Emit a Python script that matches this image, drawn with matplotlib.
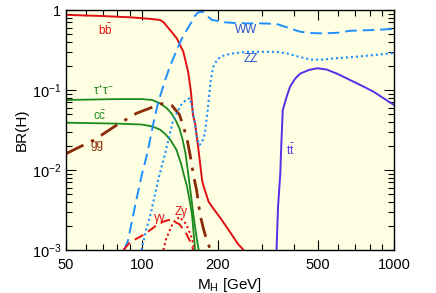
import matplotlib
matplotlib.use("Agg")
import matplotlib.pyplot as plt
from matplotlib.ticker import FixedLocator, NullFormatter, FixedFormatter

plt.rcParams['font.family'] = ['Liberation Sans', 'DejaVu Sans']
plt.rcParams['mathtext.fontset'] = 'custom'
plt.rcParams['mathtext.rm'] = 'Liberation Sans'
plt.rcParams['mathtext.it'] = 'Liberation Sans'
plt.rcParams['mathtext.default'] = 'regular'

# ---- data ----
m_bb = [50, 70, 90, 100, 110, 118, 122, 129.5, 137.7, 146, 152.5, 156.5, 159.4, 162.6, 168, 173.4, 176.5, 184, 192, 205, 223, 240, 253]
br_bb = [0.87, 0.84, 0.81, 0.79, 0.77, 0.75, 0.70, 0.56, 0.44, 0.30, 0.17, 0.095, 0.049, 0.038, 0.017, 0.0073, 0.0060, 0.0040, 0.0033, 0.0025, 0.0017, 0.0012, 0.001]

m_tau = [50, 80, 100, 110, 118, 125, 131, 136, 141, 145, 149, 153, 157, 161, 165, 168]
br_tau = [0.075, 0.077, 0.077, 0.075, 0.068, 0.060, 0.051, 0.042, 0.033, 0.024, 0.016, 0.0085, 0.0045, 0.0024, 0.0014, 0.001]

m_cc = [50, 80, 100, 110, 118, 124, 130, 137, 143, 147, 151, 155, 158, 162.6]
br_cc = [0.039, 0.038, 0.037, 0.035, 0.032, 0.028, 0.0235, 0.018, 0.012, 0.0085, 0.0062, 0.0040, 0.0028, 0.001]

m_gg = [50, 65, 79, 95, 108.6, 118, 125, 131, 141, 150.4, 155, 160.5, 165, 170, 175, 181, 187.5]
br_gg = [0.016, 0.024, 0.036, 0.051, 0.060, 0.067, 0.068, 0.065, 0.049, 0.026, 0.016, 0.0083, 0.0055, 0.0028, 0.0019, 0.0013, 0.001]

m_ww = [85, 88, 95, 100, 105, 111, 116, 123.7, 129, 136, 143, 150, 157, 162, 167, 172, 176, 182, 190, 200, 215, 230, 260, 300, 342, 380, 424, 470, 524, 600, 670, 800, 1000]
br_ww = [0.001, 0.0013, 0.0042, 0.0088, 0.016, 0.038, 0.070, 0.133, 0.195, 0.29, 0.42, 0.55, 0.70, 0.84, 0.93, 0.95, 0.93, 0.83, 0.75, 0.73, 0.70, 0.69, 0.68, 0.68, 0.67, 0.60, 0.535, 0.515, 0.51, 0.52, 0.55, 0.56, 0.58]

m_zz = [99.7, 104, 108.6, 116, 123.7, 133, 143, 150, 155, 160, 165, 169, 173, 178, 183, 187.5, 192, 198, 205, 215, 230, 260, 294, 340, 376, 420, 466, 520, 576, 700, 850, 1000]
br_zz = [0.001, 0.0018, 0.0029, 0.0075, 0.0162, 0.042, 0.065, 0.076, 0.079, 0.051, 0.026, 0.0205, 0.022, 0.029, 0.062, 0.133, 0.195, 0.235, 0.26, 0.275, 0.287, 0.30, 0.30, 0.30, 0.287, 0.26, 0.24, 0.24, 0.248, 0.26, 0.275, 0.29]

m_tt = [342, 346.8, 354, 357, 362, 375, 387, 405, 424, 460, 496, 541, 600, 670, 750, 830, 1000]
br_tt = [0.001, 0.0035, 0.0091, 0.0196, 0.056, 0.082, 0.11, 0.138, 0.16, 0.178, 0.187, 0.18, 0.158, 0.133, 0.112, 0.095, 0.065]

m_aa = [84.5, 89.7, 99.7, 108.6, 118, 129.5, 141, 150, 155, 160]
br_aa = [0.001, 0.00125, 0.0015, 0.0018, 0.0022, 0.0024, 0.0021, 0.0016, 0.0013, 0.001]

m_za = [121.7, 125, 133, 141, 150, 158, 161.5]
br_za = [0.001, 0.0014, 0.0022, 0.0026, 0.0021, 0.0014, 0.001]

xticks = [50, 100, 200, 500, 1000]
xticklabels = ['50', '100', '200', '500', '1000']
yticks = [1e-3, 1e-2, 1e-1, 1]
yticklabels = [r'$10^{-3}$', r'$10^{-2}$', r'$10^{-1}$', '1']

# ---- colours ----
c_red = '#e01010'
c_green = '#1a8a1a'
c_brown = '#8b2a08'
c_blue = '#1e8fff'
c_blue_txt = '#2a4fd6'
c_purple = '#5a2ee8'

fig = plt.figure(figsize=(4.36, 2.93), dpi=100)
ax = fig.add_axes([66/436, 1 - 250/293, 328/436, 240/293])
ax.set_facecolor('#fefee2')

ax.plot(m_bb, br_bb, color=c_red, lw=1.4)
ax.plot(m_tau, br_tau, color=c_green, lw=1.3)
ax.plot(m_cc, br_cc, color=c_green, lw=1.3)
ax.plot(m_gg, br_gg, color=c_brown, lw=2.0, dashes=(7, 3, 1.2, 3))
ax.plot(m_ww, br_ww, color=c_blue, lw=1.4, dashes=(6, 3))
ax.plot(m_zz, br_zz, color=c_blue, lw=1.5, dashes=(1, 1.4))
ax.plot(m_tt, br_tt, color=c_purple, lw=1.4)
ax.plot(m_aa, br_aa, color=c_red, lw=1.4, dashes=(5, 3))
ax.plot(m_za, br_za, color=c_red, lw=1.5, dashes=(1, 1.4))

ax.set_xscale('log')
ax.set_yscale('log')
ax.set_xlim(50, 1000)
ax.set_ylim(1e-3, 1)

ax.xaxis.set_major_locator(FixedLocator(xticks))
ax.xaxis.set_major_formatter(FixedFormatter(xticklabels))
minor_x = [60, 70, 80, 90, 300, 400, 600, 700, 800, 900]
ax.xaxis.set_minor_locator(FixedLocator(minor_x))
ax.xaxis.set_minor_formatter(NullFormatter())
ax.yaxis.set_major_locator(FixedLocator(yticks))
ax.yaxis.set_major_formatter(FixedFormatter(yticklabels))
minor_y = [k * 10.0**e for e in (-3, -2, -1) for k in range(2, 10)]
ax.yaxis.set_minor_locator(FixedLocator(minor_y))
ax.yaxis.set_minor_formatter(NullFormatter())

ax.tick_params(which='both', direction='in', top=True, right=True, labelsize=10.5, width=0.8)
ax.tick_params(which='major', length=7)
ax.tick_params(which='minor', length=4)
ax.tick_params(axis='x', which='major', pad=6)
for s in ax.spines.values():
    s.set_linewidth(1.0)

ax.set_xlabel('M$_{H}$ [GeV]', fontsize=11, labelpad=3)
ax.set_ylabel('BR(H)', fontsize=11, labelpad=2)

fs = 8.5
ax.text(71.4, 0.55, r'b$\bar{\mathrm{b}}$', color=c_red, fontsize=fs, ha='center', va='center')
ax.text(70.4, 0.098, r'τ$^{+}$τ$^{-}$', color=c_green, fontsize=fs, ha='center', va='center')
ax.text(67.8, 0.0464, r'c$\bar{\mathrm{c}}$', color=c_green, fontsize=fs, ha='center', va='center')
ax.text(66.2, 0.0205, 'gg', color=c_brown, fontsize=fs, ha='center', va='center')
ax.text(260, 0.56, 'WW', color=c_blue_txt, fontsize=fs, ha='center', va='center')
ax.text(270, 0.242, 'ZZ', color=c_blue_txt, fontsize=fs, ha='center', va='center')
ax.text(390, 0.0178, r't$\bar{\mathrm{t}}$', color=c_purple, fontsize=fs, ha='center', va='center')
ax.text(118, 0.0025, 'γγ', color=c_red, fontsize=fs, ha='center', va='center')
ax.text(143, 0.003, 'Zγ', color=c_red, fontsize=fs, ha='center', va='center')

fig.savefig('out.png', dpi=100)
